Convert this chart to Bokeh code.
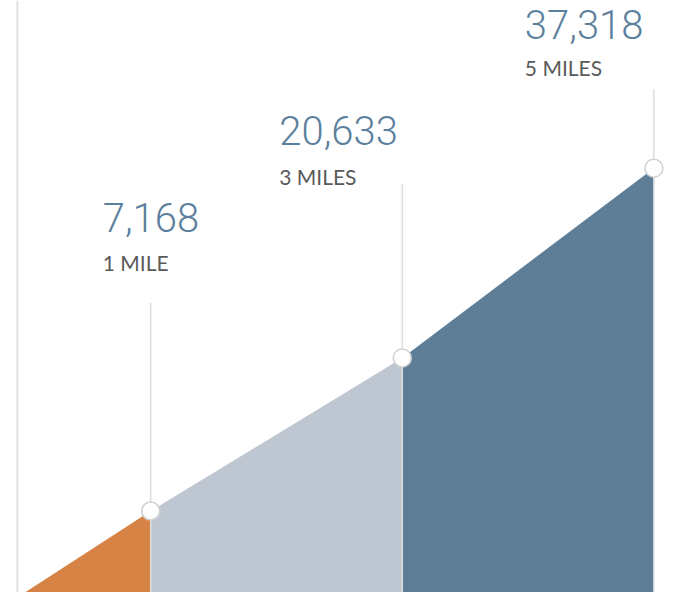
from bokeh.plotting import figure
from bokeh.models import ColumnDataSource, Range1d, Span
from bokeh.core.properties import value
from bokeh.embed import file_html
from bokeh.resources import INLINE

# ---- data ----
miles = [0, 1, 3, 5]
runners = [0, 7168, 20633, 37318]
label_miles = [1, 3, 5]
label_values = [7168, 20633, 37318]
number_labels = ["7,168", "20,633", "37,318"]
mile_labels = ["1 MILE", "3 MILES", "5 MILES"]
segment_colors = ["#D88346", "#BEC7D1", "#5E7E98"]

# ---- style / layout ----
W, H = 677, 592
X0, X1 = -0.194, 5.188
Y0, Y1 = 0, 52066
px_per_unit = H / (Y1 - Y0)
stem_px = [208, 174, 79]
num_dx = [-48, -123, -129]
num_dy = [-293, -227, -144]
sub_dy = [-248, -181, -101]

p = figure(width=W, height=H, output_backend="svg", toolbar_location=None,
           x_range=Range1d(X0, X1), y_range=Range1d(Y0, Y1),
           min_border=0, outline_line_color=None)
p.axis.visible = False
p.grid.visible = False
p.background_fill_color = "white"
p.border_fill_color = "white"

# left rule
p.add_layout(Span(location=-0.060, dimension="height", line_color="#E2E2E2", line_width=2))

# area segments
for i in range(3):
    p.varea(x=[miles[i], miles[i + 1]], y1=[0, 0], y2=[runners[i], runners[i + 1]],
            fill_color=segment_colors[i])

# stems
stem_top = [v + s / px_per_unit for v, s in zip(label_values, stem_px)]
p.segment(x0=label_miles, y0=[0, 0, 0], x1=label_miles, y1=stem_top,
          line_color="#DDDDDD", line_width=1.5)

# markers
p.scatter(x=label_miles, y=label_values, size=18, fill_color="white",
          line_color="#D0D0D0", line_width=1.5)

src = ColumnDataSource(dict(x=label_miles, y=label_values, num=number_labels,
                            sub=mile_labels, ndx=num_dx, ndy=num_dy, sdy=sub_dy))
p.text(x="x", y="y", text="num", source=src, x_offset="ndx", y_offset="ndy",
       text_font=value("Roboto Light"), text_font_size="40px", text_color="#5B7F9C",
       text_align="left", text_baseline="alphabetic")
p.text(x="x", y="y", text="sub", source=src, x_offset="ndx", y_offset="sdy",
       text_font=value("Lato"), text_font_size="21px", text_color="#5A5A5A",
       text_align="left", text_baseline="alphabetic")

open("out.html", "w").write(file_html(p, INLINE))
